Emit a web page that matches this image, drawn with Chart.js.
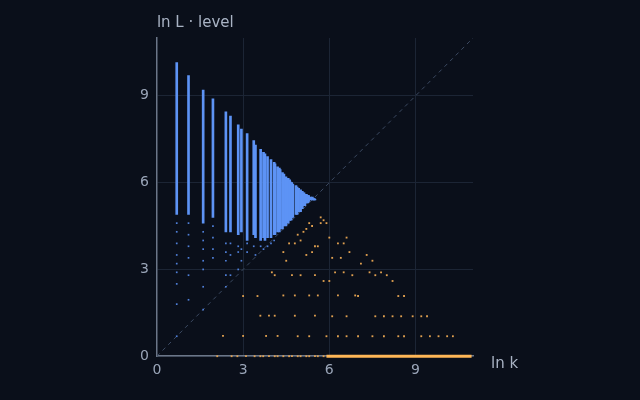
<!DOCTYPE html><html><head><meta charset="utf-8">
<script src="https://cdn.jsdelivr.net/npm/chart.js@4"></script>
<style>html,body{margin:0;background:#0a0f1a}#c{width:640px;height:400px}</style></head>
<body><div id="c"><canvas id="cv" width="640" height="400"></canvas></div>
<script>
const blueX=[0.69,1.10,1.61,1.95,2.40,2.56,2.83,2.94,3.14,3.37,3.43,3.61,3.71,3.76,3.85,3.97,4.08,4.11,4.20,4.26,4.29,4.37,4.42,4.49,4.57,4.62,4.63,4.67,4.69,4.73,4.84,4.88,4.92,4.93,5.00,5.02,5.06,5.09,5.12,5.15,5.19,5.20,5.25,5.26,5.28,5.29,5.35,5.41,5.45,5.48,5.50];
const blueHi=[10.15,9.7,9.2,8.9,8.45,8.3,8.0,7.85,7.7,7.45,7.3,7.15,7.05,7.0,6.9,6.8,6.7,6.65,6.55,6.5,6.45,6.35,6.3,6.2,6.15,6.1,6.05,6.0,6.0,5.95,5.9,5.85,5.8,5.8,5.75,5.7,5.7,5.65,5.65,5.6,5.6,5.6,5.55,5.55,5.55,5.5,5.5,5.5,5.45,5.45,5.42];
const blueLo=[4.9,4.9,4.6,4.8,4.3,4.3,4.2,4.3,4.0,4.2,4.1,4.0,4.1,4.0,4.1,4.1,4.2,4.2,4.3,4.3,4.4,4.4,4.5,4.5,4.6,4.7,4.7,4.7,4.8,4.8,4.9,4.9,5.0,5.0,5.0,5.1,5.1,5.2,5.2,5.2,5.3,5.3,5.3,5.35,5.35,5.4,5.4,5.4,5.4,5.4,5.4];
const blueSparseX=[0.69,0.69,0.69,0.69,0.69,0.69,0.69,0.69,0.69,1.10,1.10,1.10,1.10,1.10,1.10,1.61,1.61,1.61,1.61,1.61,1.61,1.61,1.95,1.95,1.95,1.95,2.40,2.40,2.40,2.40,2.40,2.56,2.56,2.56,2.83,2.83,2.83,2.94,2.94,3.14,3.14,3.37,3.43,3.61,3.71,3.85,3.97,4.08];
const blueSparseY=[4.6,4.3,3.9,3.5,3.2,2.9,2.5,1.8,0.69,4.6,4.2,3.8,3.4,2.8,1.95,4.3,4.0,3.7,3.3,3.0,2.4,1.61,4.5,4.1,3.7,3.4,3.9,3.6,3.3,2.8,2.4,3.9,3.5,2.8,3.8,3.6,3.0,3.7,3.3,3.9,3.6,3.8,3.5,3.8,3.7,3.8,3.9,4.0];
const orangeX=[4.0,4.1,4.4,4.5,4.6,4.8,4.9,5.0,5.1,5.2,5.3,5.4,5.5,5.6,5.7,5.9,5.7,5.8,5.2,5.4,5.5,5.0,4.7,6.0,6.1,6.3,6.5,6.4,6.7,6.6,6.2,6.5,6.8,7.1,7.3,7.5,7.4,7.6,7.8,8.0,6.0,6.3,6.9,5.8,5.3,5.6,4.8,4.4,7.0,8.4,8.6,8.2,3.0,3.5,3.9,4.8,5.5,6.1,6.6,7.6,7.9,8.2,8.5,8.9,9.2,9.4,3.6,4.1,2.3,3.0,3.8,4.2,4.9,5.3,5.9,6.3,6.6,7.0,7.5,7.9,8.4,8.6,9.2,9.5,9.8,10.1,10.3,2.1,2.6,2.8,3.1,3.4,3.6,3.7,3.9,4.1,4.2,4.4,4.6,4.7,4.9,5.0,5.2,5.3,5.5,5.6,5.8];
const orangeY=[2.9,2.8,3.6,3.3,3.9,3.9,4.2,4.0,4.3,4.4,4.6,4.5,3.8,3.8,4.6,4.6,4.8,4.7,3.5,3.6,2.8,2.8,2.8,4.1,3.4,3.9,3.9,3.4,3.6,4.1,2.9,2.9,2.8,3.2,3.5,3.3,2.9,2.8,2.9,2.8,2.6,2.1,2.1,2.6,2.1,2.1,2.1,2.1,2.08,2.08,2.08,2.6,2.08,2.08,1.4,1.4,1.4,1.38,1.38,1.38,1.38,1.38,1.38,1.38,1.38,1.38,1.4,1.4,0.7,0.7,0.7,0.7,0.69,0.69,0.69,0.69,0.69,0.69,0.69,0.69,0.69,0.69,0.69,0.69,0.69,0.69,0.69,0,0,0,0,0,0,0,0,0,0,0,0,0,0,0,0,0,0,0,0];
const baseX=[5.9,10.95];
const ticks=[0,3,6,9];
const diag=[0,11.2];

const zip=(a,b)=>a.map((v,i)=>({x:v,y:b[i]}));
const title={id:'t',afterDraw(c){const g=c.ctx;g.save();g.fillStyle='#a9b3c4';g.font='15px "DejaVu Sans"';
g.textAlign='left';g.fillText('ln L · level',c.chartArea.left,27);g.fillText('ln k',c.chartArea.right+18,368);g.restore();}};
new Chart(document.getElementById('cv'),{
 data:{datasets:[
  {type:'line',data:diag.map(v=>({x:v,y:v})),borderColor:'#3c4a62',borderWidth:1,borderDash:[4,4],pointRadius:0,order:5},
  {type:'bar',data:blueX.map((v,i)=>({x:v,y:[blueLo[i],blueHi[i]]})),backgroundColor:'#5d93f5',barThickness:2,order:1},
  {type:'scatter',data:zip(blueSparseX,blueSparseY),backgroundColor:'#4f7fd8',pointRadius:1.2,pointStyle:'rect',borderWidth:0,order:2,clip:false},
  {type:'scatter',data:zip(orangeX,orangeY),backgroundColor:'#e0a050',pointRadius:1.3,pointStyle:'rect',borderWidth:0,order:3,clip:false},
  {type:'line',data:baseX.map(v=>({x:v,y:0})),borderColor:'#ffb757',borderWidth:3,pointRadius:0,order:0,clip:false}
 ]},
 options:{responsive:false,animation:false,layout:{padding:{left:132,right:167,top:38,bottom:15}},
  plugins:{legend:{display:false},tooltip:{enabled:false}},
  scales:{
   x:{type:'linear',min:0,max:11,offset:false,afterBuildTicks:s=>{s.ticks=ticks.map(v=>({value:v}))},
      grid:{color:'#1c2535',drawTicks:false,offset:false},border:{color:'#6b7688',width:1.5},
      ticks:{color:'#9aa5b8',font:{size:14,family:'DejaVu Sans'},padding:6}},
   y:{type:'linear',min:0,max:11,afterBuildTicks:s=>{s.ticks=ticks.map(v=>({value:v}))},
      grid:{color:'#1c2535',drawTicks:false},border:{color:'#6b7688',width:1.5},
      ticks:{color:'#9aa5b8',font:{size:14,family:'DejaVu Sans'},padding:8}}
  }},
 plugins:[title]
});
</script></body></html>
